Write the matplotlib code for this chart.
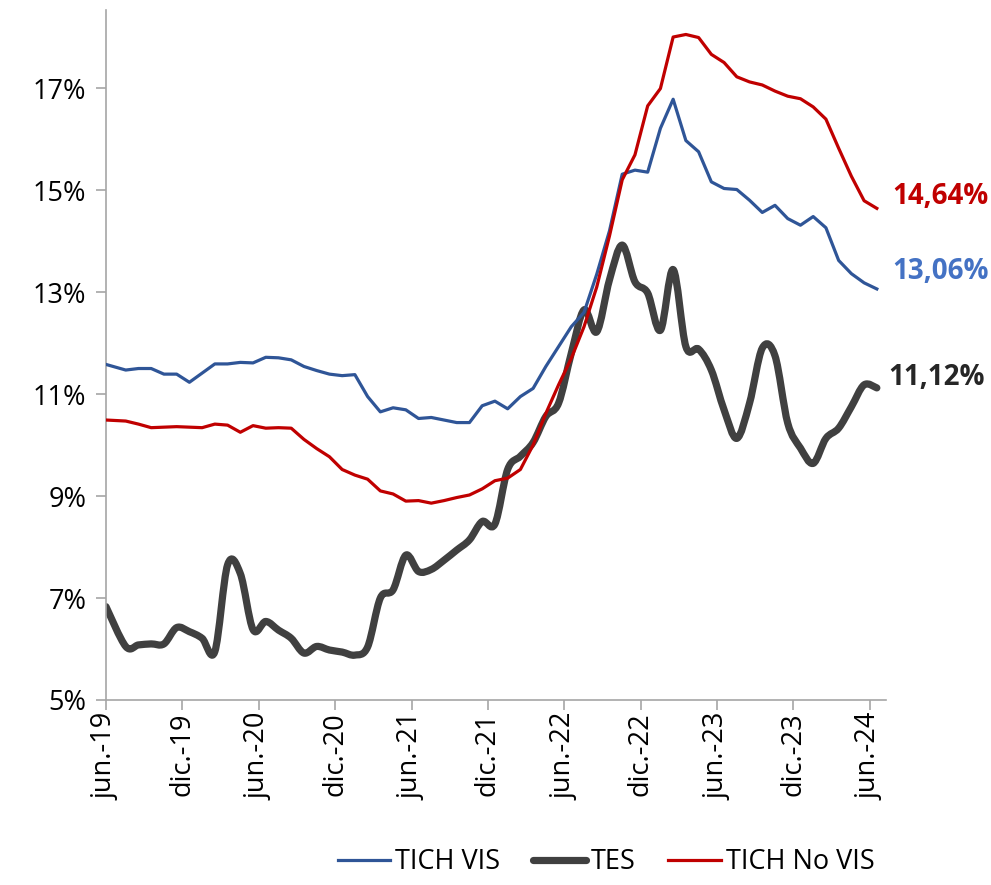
import matplotlib
matplotlib.use("Agg")
import matplotlib.pyplot as plt
from matplotlib.path import Path
from matplotlib.patches import PathPatch
from matplotlib.lines import Line2D

# Tasas mensuales, jun-19 a jun-24 (%)
tich_vis = [11.58, 11.47, 11.50, 11.50, 11.39, 11.39, 11.23, 11.41, 11.59, 11.59,
            11.62, 11.61, 11.72, 11.71, 11.67, 11.54, 11.46, 11.39, 11.36, 11.38,
            10.95, 10.65, 10.73, 10.69, 10.52, 10.54, 10.49, 10.44, 10.44, 10.77,
            10.86, 10.71, 10.95, 11.11, 11.54, 11.93, 12.32, 12.60, 13.35, 14.20,
            15.31, 15.39, 15.35, 16.21, 16.78, 15.97, 15.75, 15.16, 15.03, 15.01,
            14.80, 14.56, 14.70, 14.44, 14.31, 14.48, 14.26, 13.62, 13.36, 13.18,
            13.06]
tes = [6.83, 6.05, 6.08, 6.10, 6.10, 6.42, 6.34, 6.21, 5.95, 7.65,
       7.48, 6.38, 6.54, 6.37, 6.21, 5.92, 6.05, 5.98, 5.94, 5.88,
       6.04, 7.00, 7.16, 7.84, 7.52, 7.56, 7.74, 7.94, 8.14, 8.50,
       8.45, 9.52, 9.78, 10.05, 10.56, 10.82, 11.80, 12.65, 12.22, 13.24,
       13.92, 13.20, 12.98, 12.25, 13.44, 11.93, 11.88, 11.47, 10.69, 10.13,
       10.82, 11.90, 11.75, 10.43, 9.94, 9.64, 10.13, 10.33, 10.75, 11.18,
       11.12]
tich_no_vis = [10.49, 10.47, 10.41, 10.34, 10.35, 10.36, 10.35, 10.34, 10.41, 10.39,
               10.25, 10.38, 10.33, 10.34, 10.33, 10.11, 9.93, 9.77, 9.52, 9.41,
               9.33, 9.10, 9.04, 8.90, 8.91, 8.86, 8.91, 8.97, 9.02, 9.14,
               9.30, 9.35, 9.52, 10.00, 10.62, 11.18, 11.70, 12.32, 13.10, 14.10,
               15.20, 15.69, 16.65, 16.99, 18.00, 18.05, 17.99, 17.66, 17.50, 17.22,
               17.12, 17.06, 16.94, 16.84, 16.79, 16.63, 16.39, 15.82, 15.27, 14.79,
               14.64]
tick_labels = ["jun.-19", "dic.-19", "jun.-20", "dic.-20", "jun.-21", "dic.-21",
               "jun.-22", "dic.-22", "jun.-23", "dic.-23", "jun.-24"]
y_ticks = [5, 7, 9, 11, 13, 15, 17]

c_vis = "#2F5597"
c_tes = "#404040"
c_novis = "#C00000"
grey = "#A6A6A6"

plt.rcParams["font.family"] = ["Open Sans", "DejaVu Sans"]
plt.rcParams["font.size"] = 19.5

fig = plt.figure(figsize=(9.91, 8.85), dpi=100)
ax = fig.add_axes([106 / 991, 1 - 700 / 885, 780 / 991, 690 / 885])

# eje en meses desde jun-19: primer dato al inicio del mes, el resto a mitad de mes
n = len(tes)
x = [0.0] + [k + 0.55 for k in range(1, n)]

ax.plot(x, tich_vis, color=c_vis, lw=2.3, solid_joinstyle="round", zorder=3)
ax.plot(x, tich_no_vis, color=c_novis, lw=2.3, solid_joinstyle="round", zorder=4)

# TES como línea suavizada (Catmull-Rom -> Bezier cúbico)
verts = [(x[0], tes[0])]
codes = [Path.MOVETO]
for i in range(n - 1):
    p0 = (x[max(i - 1, 0)], tes[max(i - 1, 0)])
    p1 = (x[i], tes[i])
    p2 = (x[i + 1], tes[i + 1])
    p3 = (x[min(i + 2, n - 1)], tes[min(i + 2, n - 1)])
    c1 = (p1[0] + (p2[0] - p0[0]) / 6, p1[1] + (p2[1] - p0[1]) / 6)
    c2 = (p2[0] - (p3[0] - p1[0]) / 6, p2[1] - (p3[1] - p1[1]) / 6)
    verts += [c1, c2, p2]
    codes += [Path.CURVE4] * 3
ax.add_patch(PathPatch(Path(verts, codes), fill=False, edgecolor=c_tes, lw=5.2,
                       capstyle="round", joinstyle="round", zorder=2))

# Valores finales
ax.annotate(f"{tich_no_vis[-1]:.2f}%".replace(".", ","), (x[-1], tich_no_vis[-1]),
            xytext=(15, 12), textcoords="offset pixels", ha="left", va="center",
            color=c_novis, fontweight="bold", fontsize=20, annotation_clip=False)
ax.annotate(f"{tich_vis[-1]:.2f}%".replace(".", ","), (x[-1], tich_vis[-1]),
            xytext=(15, 17), textcoords="offset pixels", ha="left", va="center",
            color="#4472C4", fontweight="bold", fontsize=20, annotation_clip=False)
ax.annotate(f"{tes[-1]:.2f}%".replace(".", ","), (x[-1], tes[-1]),
            xytext=(11, 10), textcoords="offset pixels", ha="left", va="center",
            color="#262626", fontweight="bold", fontsize=20, annotation_clip=False)

ax.set_xlim(0, 61.27)
ax.set_ylim(5, 18.53)
ax.set_xticks(range(0, 61, 6))
ax.set_xticklabels(tick_labels, rotation=90, va="top", ha="center")
ax.set_yticks(y_ticks)
ax.set_yticklabels([f"{v}%" for v in y_ticks])

for side in ["top", "right"]:
    ax.spines[side].set_visible(False)
for side in ["left", "bottom"]:
    ax.spines[side].set_color(grey)
    ax.spines[side].set_linewidth(1.2)
ax.tick_params(axis="x", direction="out", length=7, width=1.2, color=grey, pad=2)
ax.tick_params(axis="y", direction="out", length=7, width=1.2, color=grey, pad=7)

handles = [Line2D([], [], color=c_vis, lw=2.3),
           Line2D([], [], color=c_tes, lw=5.2, solid_capstyle="round"),
           Line2D([], [], color=c_novis, lw=2.3)]
fig.legend(handles, ["TICH VIS", "TES", "TICH No VIS"], loc="center", ncol=3,
           bbox_to_anchor=(606 / 991, 1 - 862 / 885), frameon=False,
           handlelength=1.95, handletextpad=0.18, columnspacing=1.2)

plt.savefig("out.png", dpi=100)
